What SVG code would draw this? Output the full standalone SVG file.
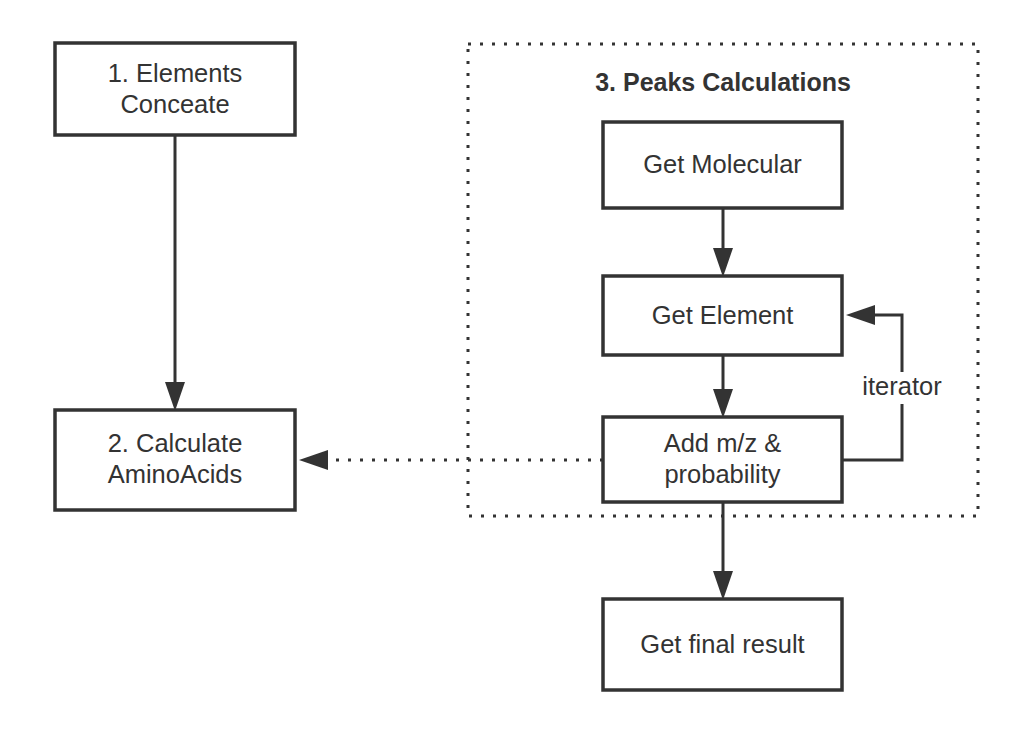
<svg xmlns="http://www.w3.org/2000/svg" width="1030" height="738" viewBox="0 0 1030 738">
  <style>
    .box { fill: #ffffff; stroke: #333333; stroke-width: 3.5; }
    .lbl { font-family: "Liberation Sans", Arial, Helvetica, sans-serif; font-size: 25.5px; fill: #333333; text-anchor: middle; }
    .title { font-family: "Liberation Sans", Arial, Helvetica, sans-serif; font-size: 25px; font-weight: bold; fill: #333333; text-anchor: middle; }
    .edge { fill: none; stroke: #333333; stroke-width: 3; }
    .dotted { fill: none; stroke: #333333; stroke-width: 3; stroke-dasharray: 3 9; }
  </style>
  <defs>
    <marker id="arrow" markerUnits="userSpaceOnUse" markerWidth="30" markerHeight="20" refX="0" refY="10" orient="auto" viewBox="0 0 30 20">
      <path d="M0,0 L29,10 L0,20 Z" fill="#333333"/>
    </marker>
  </defs>
  <rect width="1030" height="738" fill="#ffffff"/>

  <g id="container-peaks">
    <rect x="468" y="44" width="510" height="472" class="dotted"/>
    <text x="723" y="91" class="title">3. Peaks Calculations</text>
  </g>

  <g id="connectors">
    <line x1="175" y1="135" x2="175" y2="382" class="edge" marker-end="url(#arrow)"/>
    <line x1="723" y1="208" x2="723" y2="248" class="edge" marker-end="url(#arrow)"/>
    <line x1="723" y1="355" x2="723" y2="389" class="edge" marker-end="url(#arrow)"/>
    <line x1="723" y1="502" x2="723" y2="571" class="edge" marker-end="url(#arrow)"/>
    <path d="M842,460 H902 V315 H875" class="edge" marker-end="url(#arrow)"/>
    <line x1="603" y1="460" x2="328" y2="460" class="dotted" marker-end="url(#arrow)"/>
    <rect x="860" y="372" width="84" height="32" fill="#ffffff"/>
    <text x="902" y="395" class="lbl">iterator</text>
  </g>

  <g id="node-elements">
    <rect x="55" y="43" width="240" height="92" class="box"/>
    <text x="175" y="82" class="lbl">1. Elements</text>
    <text x="175" y="113" class="lbl">Conceate</text>
  </g>

  <g id="node-aminoacids">
    <rect x="55" y="410" width="240" height="100" class="box"/>
    <text x="175" y="452" class="lbl">2. Calculate</text>
    <text x="175" y="483" class="lbl">AminoAcids</text>
  </g>

  <g id="node-molecular">
    <rect x="603" y="122" width="239" height="86" class="box"/>
    <text x="722.5" y="173" class="lbl">Get Molecular</text>
  </g>

  <g id="node-element">
    <rect x="603" y="276" width="239" height="79" class="box"/>
    <text x="722.5" y="324" class="lbl">Get Element</text>
  </g>

  <g id="node-add">
    <rect x="603" y="417" width="239" height="85" class="box"/>
    <text x="722.5" y="452" class="lbl">Add m/z &amp;</text>
    <text x="722.5" y="483" class="lbl">probability</text>
  </g>

  <g id="node-final">
    <rect x="603" y="599" width="239" height="91" class="box"/>
    <text x="722.5" y="653" class="lbl">Get final result</text>
  </g>
</svg>
